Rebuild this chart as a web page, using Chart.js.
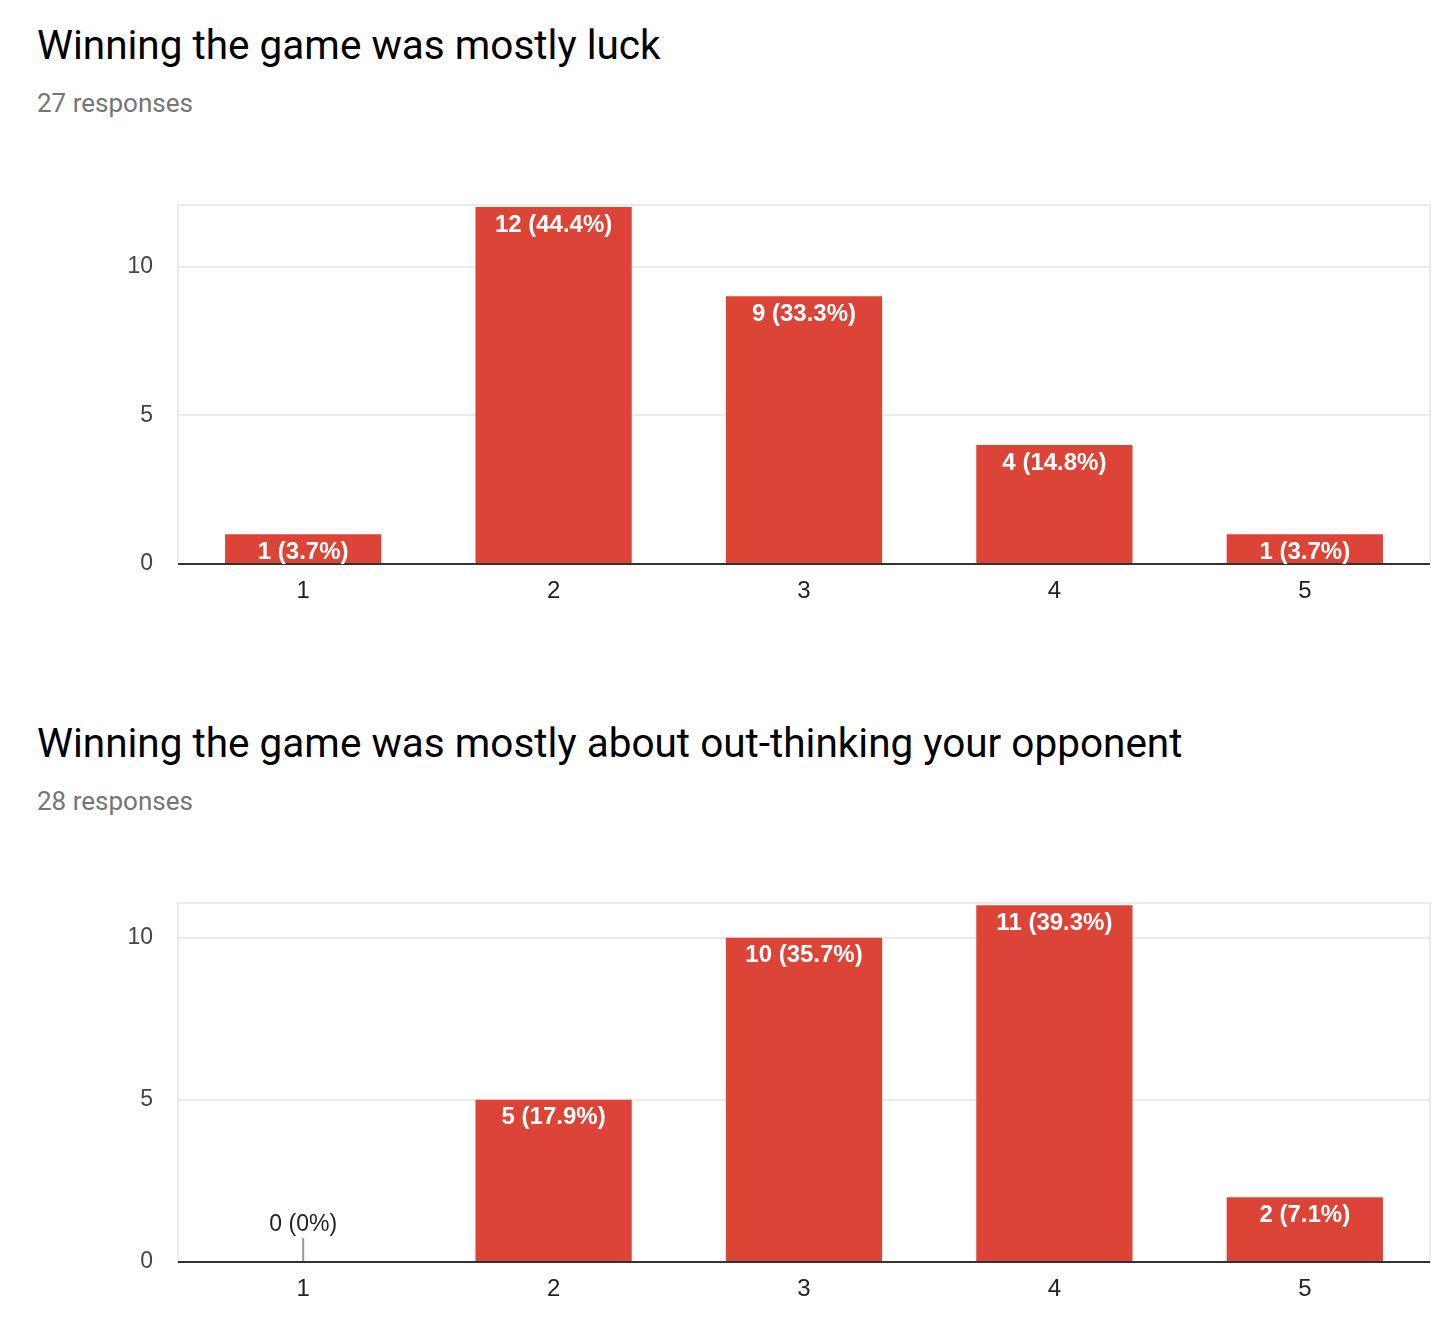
<!DOCTYPE html>
<html>
<head>
<meta charset="utf-8">
<script src="https://cdn.jsdelivr.net/npm/chart.js@4.4.1/dist/chart.umd.min.js"></script>
<style>
  html, body { margin: 0; padding: 0; background: #fff; overflow: hidden; }
  body { width: 1456px; height: 1328px; position: relative; }
  .title { position: absolute; left: 37px; font-family: Roboto, sans-serif; font-size: 40.5px; color: #000; white-space: nowrap; }
  .sub { position: absolute; left: 37px; font-family: Roboto, sans-serif; font-size: 26px; color: #757575; white-space: nowrap; }
  .box { position: absolute; left: 0; width: 1456px; height: 462px; }
</style>
</head>
<body>
<div class="title" id="title1" style="top:21px">Winning the game was mostly luck</div>
<div class="sub" id="sub1" style="top:88px"></div>
<div class="box" style="top:150px"><canvas id="chart1"></canvas></div>

<div class="title" id="title2" style="top:719px">Winning the game was mostly about out-thinking your opponent</div>
<div class="sub" id="sub2" style="top:786px"></div>
<div class="box" style="top:848px"><canvas id="chart2"></canvas></div>

<script>
// data
const categories = ["1", "2", "3", "4", "5"];
const luckCounts = [1, 12, 9, 4, 1];
const thinkingCounts = [0, 5, 10, 11, 2];
const yTicks = [0, 5, 10];

const barColor = "#db4437";

function pctLabel(v, total) {
  let p = Math.round(v / total * 1000) / 10;
  return v + " (" + p + "%)";
}

// light frame on top, left and right of the plot area
const framePlugin = {
  id: "frame",
  beforeDatasetsDraw(chart) {
    const a = chart.chartArea;
    const ctx = chart.ctx;
    ctx.save();
    ctx.strokeStyle = "#ebebeb";
    ctx.lineWidth = 2;
    ctx.beginPath();
    ctx.moveTo(a.left, a.bottom);
    ctx.lineTo(a.left, a.top);
    ctx.lineTo(a.right, a.top);
    ctx.lineTo(a.right, a.bottom);
    ctx.stroke();
    ctx.restore();
  }
};

// value + percent labels on the bars
const labelPlugin = {
  id: "barLabels",
  afterDatasetsDraw(chart) {
    const ctx = chart.ctx;
    const ds = chart.data.datasets[0];
    const total = ds.data.reduce((a, b) => a + b, 0);
    const meta = chart.getDatasetMeta(0);
    const a = chart.chartArea;
    ctx.save();
    // dark baseline
    ctx.strokeStyle = "#333";
    ctx.lineWidth = 2;
    ctx.beginPath();
    ctx.moveTo(a.left, a.bottom);
    ctx.lineTo(a.right, a.bottom);
    ctx.stroke();
    ctx.textAlign = "center";
    ctx.textBaseline = "middle";
    meta.data.forEach((bar, i) => {
      const v = ds.data[i];
      const txt = pctLabel(v, total);
      if (v > 0) {
        ctx.font = "bold 24px 'Liberation Sans', Arial, sans-serif";
        ctx.fillStyle = "#fff";
        ctx.fillText(txt, bar.x, bar.y + 18);
      } else {
        ctx.strokeStyle = "#999";
        ctx.lineWidth = 2;
        ctx.beginPath();
        ctx.moveTo(bar.x, bar.base - 1);
        ctx.lineTo(bar.x, bar.base - 24);
        ctx.stroke();
        ctx.font = "23px 'Liberation Sans', Arial, sans-serif";
        ctx.fillStyle = "#222";
        ctx.fillText(txt, bar.x, bar.base - 37);
      }
    });
    ctx.restore();
  }
};

function makeChart(id, values, yMax) {
  return new Chart(document.getElementById(id), {
    type: "bar",
    data: {
      labels: categories,
      datasets: [{
        data: values,
        backgroundColor: barColor,
        categoryPercentage: 1,
        barPercentage: 0.624
      }]
    },
    options: {
      responsive: true,
      maintainAspectRatio: false,
      animation: false,
      layout: { padding: { top: 55, right: 26, left: 0, bottom: 0 } },
      plugins: { legend: { display: false }, tooltip: { enabled: false } },
      scales: {
        x: {
          grid: { display: false, drawTicks: false },
          border: { display: false },
          ticks: {
            color: "#222",
            padding: 13,
            font: { family: "'Liberation Sans', Arial, sans-serif", size: 24 }
          },
          afterFit(s) { s.height = 48; }
        },
        y: {
          min: 0,
          max: yMax,
          grid: { color: "#ebebeb", lineWidth: 2, drawTicks: false },
          border: { display: false },
          ticks: {
            stepSize: 5,
            color: "#444",
            padding: 25,
            font: { family: "'Liberation Sans', Arial, sans-serif", size: 23 }
          },
          afterBuildTicks(s) {
            s.ticks = yTicks.map(v => ({ value: v }));
          },
          afterFit(s) { s.width = 178; }
        }
      }
    },
    plugins: [framePlugin, labelPlugin]
  });
}

document.getElementById("sub1").textContent = luckCounts.reduce((a, b) => a + b, 0) + " responses";
document.getElementById("sub2").textContent = thinkingCounts.reduce((a, b) => a + b, 0) + " responses";

makeChart("chart1", luckCounts, 12.07);
makeChart("chart2", thinkingCounts, 11.07);
</script>
</body>
</html>
